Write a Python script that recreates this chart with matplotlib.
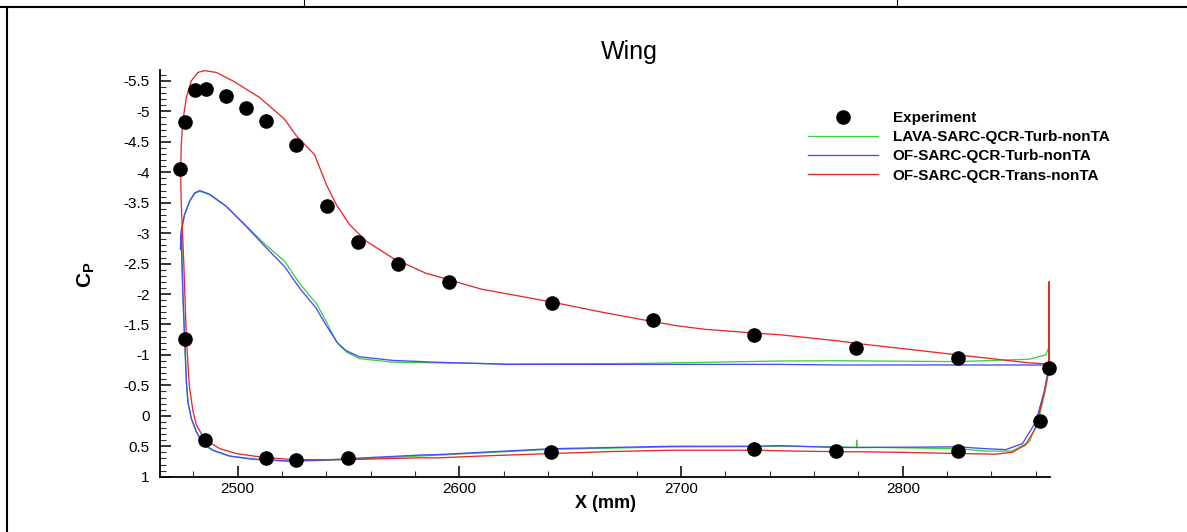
import matplotlib
matplotlib.use("Agg")
import matplotlib.pyplot as plt
from matplotlib.lines import Line2D
from matplotlib.ticker import FixedLocator, FixedFormatter, MultipleLocator

plt.rcParams['font.family'] = ['Liberation Sans', 'DejaVu Sans']
plt.rcParams['axes.unicode_minus'] = False
plt.rcParams['mathtext.fontset'] = 'custom'
plt.rcParams['mathtext.rm'] = 'Liberation Sans'
plt.rcParams['mathtext.bf'] = 'Liberation Sans:bold'

# Experimental pressure taps
exp_x = [2474.0, 2476.1, 2480.6, 2485.6, 2494.6, 2503.6, 2512.6, 2526.5, 2540.4,
         2554.2, 2572.5, 2595.5, 2641.6, 2687.4, 2733.1, 2779.0, 2825.0, 2866.0,
         2476.1, 2485.1, 2512.9, 2526.5, 2549.6, 2641.5, 2733.1, 2770.0, 2825.0,
         2862.1]
exp_cp = [-4.05, -4.83, -5.35, -5.37, -5.26, -5.05, -4.85, -4.44, -3.44,
          -2.86, -2.49, -2.20, -1.85, -1.57, -1.32, -1.12, -0.95, -0.78,
          -1.26, 0.40, 0.70, 0.72, 0.70, 0.60, 0.55, 0.57, 0.58,
          0.09]

# LAVA-SARC-QCR-Turb-nonTA
lava_x = [2474.7, 2474.9, 2476.1, 2478.4, 2480.6, 2482.9, 2487.4, 2494.9, 2503.9,
          2512.9, 2521.2, 2528.0, 2535.4, 2540.0, 2544.5, 2549.0, 2554.9, 2570.0,
          2609.0, 2621.0, 2681.0, 2744.0, 2771.0, 2825.0, 2857.0, 2864.5, 2866.0,
          2866.0, 2864.5, 2861.4, 2857.0, 2849.3, 2837.5, 2825.0, 2790.0, 2779.2,
          2779.2, 2779.3, 2771.0, 2744.0, 2733.0, 2696.0, 2641.6, 2591.0, 2552.0,
          2537.0, 2522.0, 2506.9, 2496.4, 2488.9, 2484.4, 2481.4, 2479.1, 2477.6,
          2476.9, 2476.1, 2475.4, 2475.0, 2474.8]
lava_cp = [-2.98, -3.08, -3.30, -3.52, -3.65, -3.69, -3.63, -3.44, -3.12,
           -2.80, -2.54, -2.17, -1.85, -1.55, -1.22, -1.05, -0.94, -0.88,
           -0.86, -0.85, -0.86, -0.90, -0.905, -0.89, -0.93, -1.00, -1.14,
           -0.78, -0.45, 0.04, 0.43, 0.58, 0.58, 0.54, 0.52, 0.52,
           0.40, 0.52, 0.51, 0.50, 0.505, 0.51, 0.55, 0.645, 0.71,
           0.735, 0.745, 0.715, 0.665, 0.57, 0.465, 0.265, 0.045, -0.22,
           -0.55, -1.26, -1.98, -2.55, -2.90]

# OF-SARC-QCR-Turb-nonTA
of_turb_x = [2474.2, 2474.5, 2476.1, 2478.4, 2480.6, 2482.9, 2487.4, 2494.9, 2503.9,
             2512.9, 2521.2, 2527.9, 2535.4, 2539.9, 2545.2, 2549.0, 2554.9, 2570.0,
             2590.0, 2609.0, 2621.0, 2681.0, 2744.0, 2771.0, 2825.0, 2864.5, 2866.0,
             2863.8, 2860.0, 2854.0, 2846.5, 2837.5, 2825.0, 2779.0, 2771.0, 2744.0,
             2733.0, 2696.0, 2641.6, 2591.0, 2582.0, 2552.0, 2537.0, 2522.0, 2506.9,
             2496.4, 2488.9, 2484.4, 2481.4, 2479.1, 2477.6, 2476.9, 2476.1, 2475.3,
             2474.8, 2474.6]
of_turb_cp = [-2.73, -3.03, -3.31, -3.53, -3.66, -3.70, -3.64, -3.44, -3.11,
              -2.76, -2.45, -2.10, -1.77, -1.49, -1.19, -1.07, -0.97, -0.91,
              -0.88, -0.86, -0.845, -0.845, -0.845, -0.835, -0.835, -0.835, -0.82,
              -0.40, 0.10, 0.456, 0.555, 0.54, 0.51, 0.52, 0.52, 0.49,
              0.50, 0.50, 0.54, 0.635, 0.645, 0.70, 0.73, 0.74, 0.71,
              0.66, 0.565, 0.46, 0.26, 0.04, -0.23, -0.56, -1.27, -1.99,
              -2.60, -2.95]

# OF-SARC-QCR-Trans-nonTA
of_trans_x = [2866.0, 2865.1, 2862.8, 2859.8, 2855.3, 2849.3, 2841.8, 2825.0, 2800.0,
              2779.0, 2771.0, 2745.0, 2733.0, 2696.0, 2670.0, 2641.6, 2610.0, 2591.0,
              2582.0, 2549.0, 2527.0, 2513.0, 2499.4, 2492.0, 2485.1, 2481.4, 2479.9,
              2478.2, 2476.9, 2475.7, 2474.6, 2474.3, 2474.6, 2475.3, 2476.9, 2479.1,
              2482.1, 2485.1, 2490.4, 2497.9, 2509.9, 2521.2, 2526.5, 2534.7, 2540.0,
              2544.5, 2550.5, 2558.0, 2570.0, 2585.0, 2591.0, 2610.0, 2641.6, 2666.0,
              2687.0, 2698.0, 2711.0, 2733.0, 2745.0, 2771.0, 2779.0, 2825.0, 2857.0,
              2866.0, 2866.0, 2866.0]
of_trans_cp = [-0.78, -0.61, -0.23, 0.21, 0.48, 0.60, 0.63, 0.62, 0.60,
               0.59, 0.59, 0.575, 0.565, 0.565, 0.585, 0.62, 0.66, 0.69,
               0.69, 0.72, 0.72, 0.69, 0.62, 0.54, 0.385, 0.15, -0.07,
               -0.50, -1.27, -2.54, -3.47, -4.02, -4.46, -4.84, -5.23, -5.50,
               -5.64, -5.67, -5.64, -5.50, -5.23, -4.87, -4.60, -4.29, -3.80,
               -3.47, -3.14, -2.87, -2.59, -2.34, -2.28, -2.08, -1.87, -1.69,
               -1.55, -1.48, -1.42, -1.36, -1.33, -1.23, -1.19, -1.00, -0.87,
               -0.85, -2.20, -0.80]

xtick_values = [2500, 2600, 2700, 2800]
ytick_values = [-5.5, -5, -4.5, -4, -3.5, -3, -2.5, -2, -1.5, -1, -0.5, 0, 0.5, 1]
ytick_labels = ['-5.5', '-5', '-4.5', '-4', '-3.5', '-3', '-2.5', '-2', '-1.5',
                '-1', '-0.5', '0', '0.5', '1']

W, H = 1187, 532
fig = plt.figure(figsize=(W / 100, H / 100), dpi=100)
ax = fig.add_axes([160 / W, 1 - 476.7 / H, 890 / W, 406.7 / H])

c_green = '#3cd23c'
c_blue = '#4848ff'
c_red = '#e52a2a'

ax.plot(lava_x, lava_cp, color=c_green, lw=0.95, zorder=2,
        label='LAVA-SARC-QCR-Turb-nonTA')
ax.plot(of_turb_x, of_turb_cp, color=c_blue, lw=0.95, zorder=3,
        label='OF-SARC-QCR-Turb-nonTA')
ax.plot(of_trans_x, of_trans_cp, color=c_red, lw=0.95, zorder=4,
        label='OF-SARC-QCR-Trans-nonTA')
ax.plot(exp_x, exp_cp, linestyle='none', marker='o', color='black',
        markersize=9.5, zorder=5, label='Experiment', clip_on=False)

ax.set_xlim(2465, 2866.4)
ax.set_ylim(1.0, -5.68)

for side in ('top', 'right'):
    ax.spines[side].set_visible(False)
for side in ('left', 'bottom'):
    ax.spines[side].set_linewidth(1.3)

ax.xaxis.set_major_locator(FixedLocator(xtick_values))
ax.xaxis.set_minor_locator(MultipleLocator(20))
ax.yaxis.set_major_locator(FixedLocator(ytick_values))
ax.yaxis.set_major_formatter(FixedFormatter(ytick_labels))
ax.yaxis.set_minor_locator(MultipleLocator(0.1))

ax.tick_params(axis='both', which='major', direction='in', length=8, width=1.1,
               labelsize=11, top=False, right=False)
ax.tick_params(axis='both', which='minor', direction='in', length=4.3, width=0.8,
               top=False, right=False, color='#333333')
ax.tick_params(axis='y', which='major', pad=7.5)
ax.tick_params(axis='x', which='major', pad=4)

fig.text(629.5 / W, 1 - 59 / H, 'Wing', fontsize=18, ha='center', va='baseline')
fig.text(606 / W, 1 - 508 / H, 'X (mm)', fontsize=13, fontweight='bold',
         ha='center', va='baseline')
fig.text(86 / W, 1 - 275 / H, r'$\mathbf{C}_{\mathbf{P}}$', fontsize=15,
         rotation=90, ha='center', va='center')

handles, labels = ax.get_legend_handles_labels()
order = [3, 0, 1, 2]
leg = ax.legend([handles[i] for i in order], [labels[i] for i in order],
                loc='upper left', bbox_to_anchor=(808 / W, 1 - 111 / H),
                bbox_transform=fig.transFigure, frameon=False, fontsize=11,
                handlelength=4.6, handletextpad=0.95, labelspacing=0.34,
                borderpad=0, borderaxespad=0, numpoints=1)
for t in leg.get_texts():
    t.set_fontweight('bold')

# page frame lines around the figure
frame_kw = dict(transform=fig.transFigure, color='black')
fig.add_artist(Line2D([0, 1], [1 - 6.5 / H, 1 - 6.5 / H], lw=1.5, **frame_kw))
fig.add_artist(Line2D([6.5 / W, 6.5 / W], [0, 1 - 6.5 / H], lw=1.5, **frame_kw))
fig.add_artist(Line2D([304 / W, 304 / W], [1 - 6.5 / H, 1], lw=0.8, **frame_kw))
fig.add_artist(Line2D([897 / W, 897 / W], [1 - 6.5 / H, 1], lw=0.8, **frame_kw))

fig.savefig('out.png', dpi=100)
